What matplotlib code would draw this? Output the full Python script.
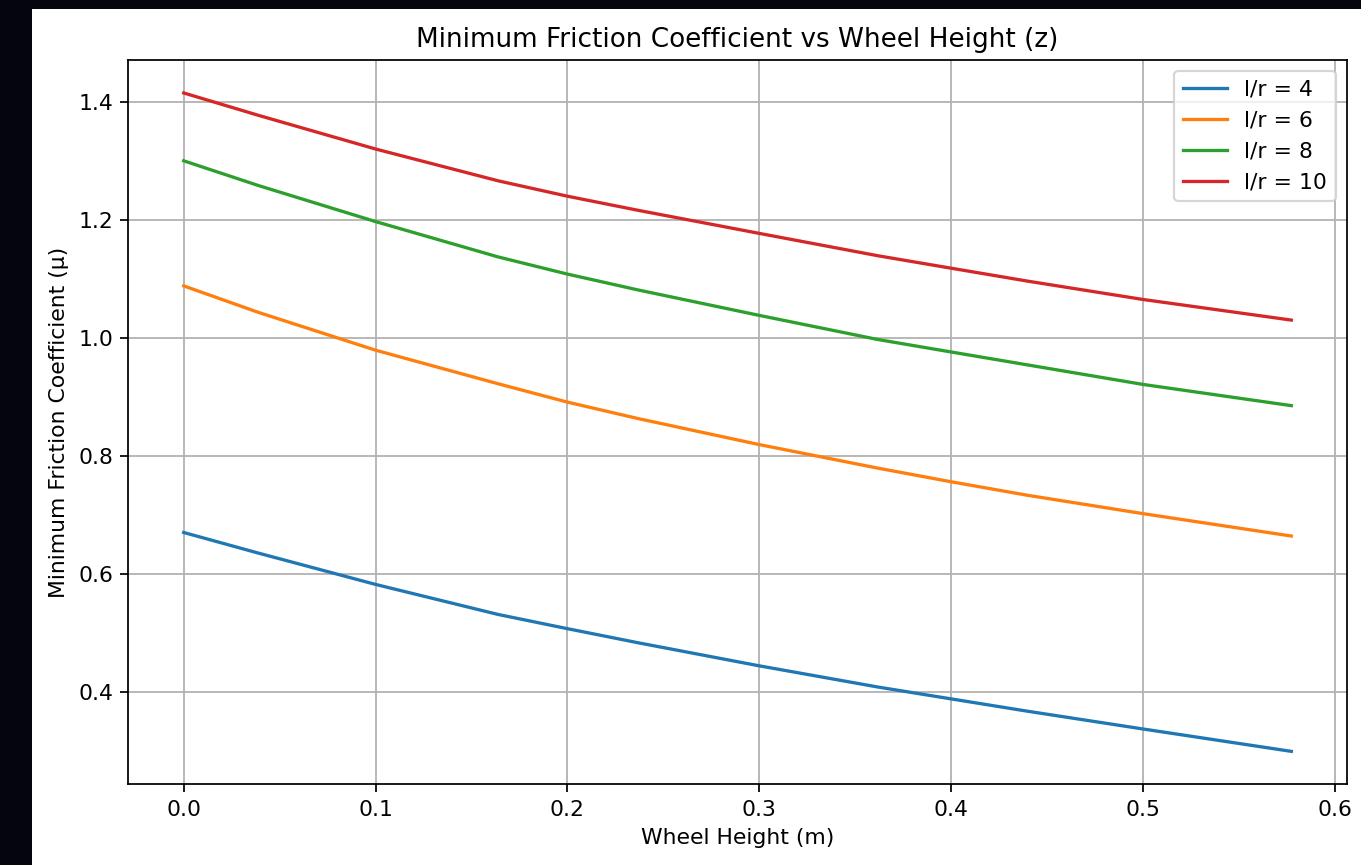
import matplotlib
matplotlib.use('Agg')
import matplotlib.pyplot as plt
from matplotlib.patches import Rectangle

# wheel height z (m) at the points
z = [0.0, 0.039, 0.1, 0.164, 0.2, 0.237, 0.3, 0.362, 0.4, 0.44, 0.5, 0.5774]

# minimum friction coefficient for each l/r ratio
mu_lr4 = [0.670, 0.635, 0.582, 0.531, 0.507, 0.483, 0.444, 0.408, 0.388, 0.367, 0.337, 0.299]
mu_lr6 = [1.088, 1.043, 0.979, 0.922, 0.891, 0.863, 0.819, 0.779, 0.756, 0.733, 0.702, 0.664]
mu_lr8 = [1.300, 1.258, 1.197, 1.137, 1.108, 1.081, 1.038, 0.997, 0.976, 0.954, 0.921, 0.885]
mu_lr10 = [1.415, 1.377, 1.320, 1.266, 1.240, 1.216, 1.177, 1.139, 1.118, 1.096, 1.065, 1.030]

ratios = [4, 6, 8, 10]
series = [mu_lr4, mu_lr6, mu_lr8, mu_lr10]

DPI = 157.5
fig = plt.figure(figsize=(1361 / DPI, 865 / DPI), dpi=DPI)
fig.patch.set_facecolor('#04050d')
# white page of the screenshot on top of the dark surround
fig.add_artist(Rectangle((0.0235, 0.0), 0.9765, 0.9896, transform=fig.transFigure,
                         facecolor='white', edgecolor='none', zorder=-1))

ax = fig.add_axes([0.0943, 0.0933, 0.8952, 0.8373])
for ratio, mu in zip(ratios, series):
    ax.plot(z, mu, label=f'l/r = {ratio}')

ax.set_title('Minimum Friction Coefficient vs Wheel Height (z)')
ax.set_xlabel('Wheel Height (m)')
ax.set_ylabel('Minimum Friction Coefficient (μ)')
ax.legend(loc='upper right')
ax.grid(True)

fig.savefig('out.png', dpi=DPI, facecolor=fig.get_facecolor())
